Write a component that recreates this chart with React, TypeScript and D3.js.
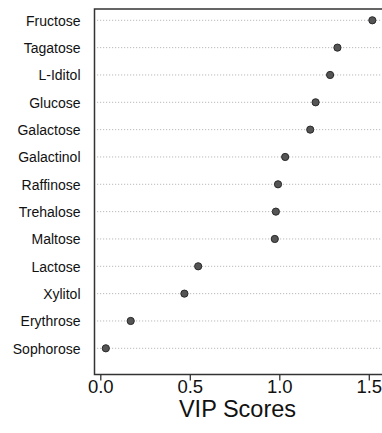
import React from "react";
import * as d3 from "d3";

// Sugars ranked by VIP score
const compounds = [
  "Fructose",
  "Tagatose",
  "L-Iditol",
  "Glucose",
  "Galactose",
  "Galactinol",
  "Raffinose",
  "Trehalose",
  "Maltose",
  "Lactose",
  "Xylitol",
  "Erythrose",
  "Sophorose",
];
const vipScores = [1.517, 1.322, 1.281, 1.2, 1.17, 1.03, 0.99, 0.978, 0.972, 0.544, 0.467, 0.167, 0.028];
const xTicks = [0, 0.5, 1.0, 1.5];
const xTitle = "VIP Scores";

const W = 382;
const H = 433;
const FONT = "'Liberation Sans', Arial, Helvetica, sans-serif";

export default function App() {
  const x = d3.scaleLinear().domain([0, 1.5]).range([100.8, 369.3]);
  const y = d3.scalePoint<string>().domain(compounds).range([20.3, 348.3]);

  const boxLeft = 94.5;
  const boxTop = 9;
  const boxBottom = 374.5;

  return (
    <svg
      width={W}
      height={H}
      style={{ position: "absolute", left: 0, top: 0, background: "#fff" }}
      fontFamily={FONT}
    >
      <rect x={0} y={0} width={W} height={H} fill="#fff" />
      {/* dotted guide lines */}
      {compounds.map((c) => (
        <line
          key={"g" + c}
          x1={boxLeft + 2.5}
          x2={W + 10}
          y1={y(c)}
          y2={y(c)}
          stroke="#a8a8a8"
          strokeWidth={0.8}
          strokeDasharray="1.2,1.8"
        />
      ))}
      {/* plot frame */}
      <rect
        x={boxLeft}
        y={boxTop}
        width={320}
        height={boxBottom - boxTop}
        fill="none"
        stroke="#333"
        strokeWidth={1.5}
      />
      {/* points */}
      {compounds.map((c, i) => (
        <circle
          key={"p" + c}
          cx={x(vipScores[i])}
          cy={y(c)}
          r={3.6}
          fill="#555"
          stroke="#2a2a2a"
          strokeWidth={1}
        />
      ))}
      {/* category labels */}
      {compounds.map((c) => (
        <text
          key={"l" + c}
          x={80.5}
          y={(y(c) as number) + 5.2}
          textAnchor="end"
          fontSize={14}
          fill="#111"
        >
          {c}
        </text>
      ))}
      {/* x axis ticks */}
      {xTicks.map((t) => (
        <g key={"t" + t}>
          <line x1={x(t)} x2={x(t)} y1={boxBottom} y2={boxBottom + 6} stroke="#333" strokeWidth={1.3} />
          <text x={x(t)} y={393} textAnchor="middle" fontSize={18.5} fill="#111">
            {t.toFixed(1)}
          </text>
        </g>
      ))}
      <text x={237.5} y={416.5} textAnchor="middle" fontSize={23.5} fill="#111">
        {xTitle}
      </text>
    </svg>
  );
}
